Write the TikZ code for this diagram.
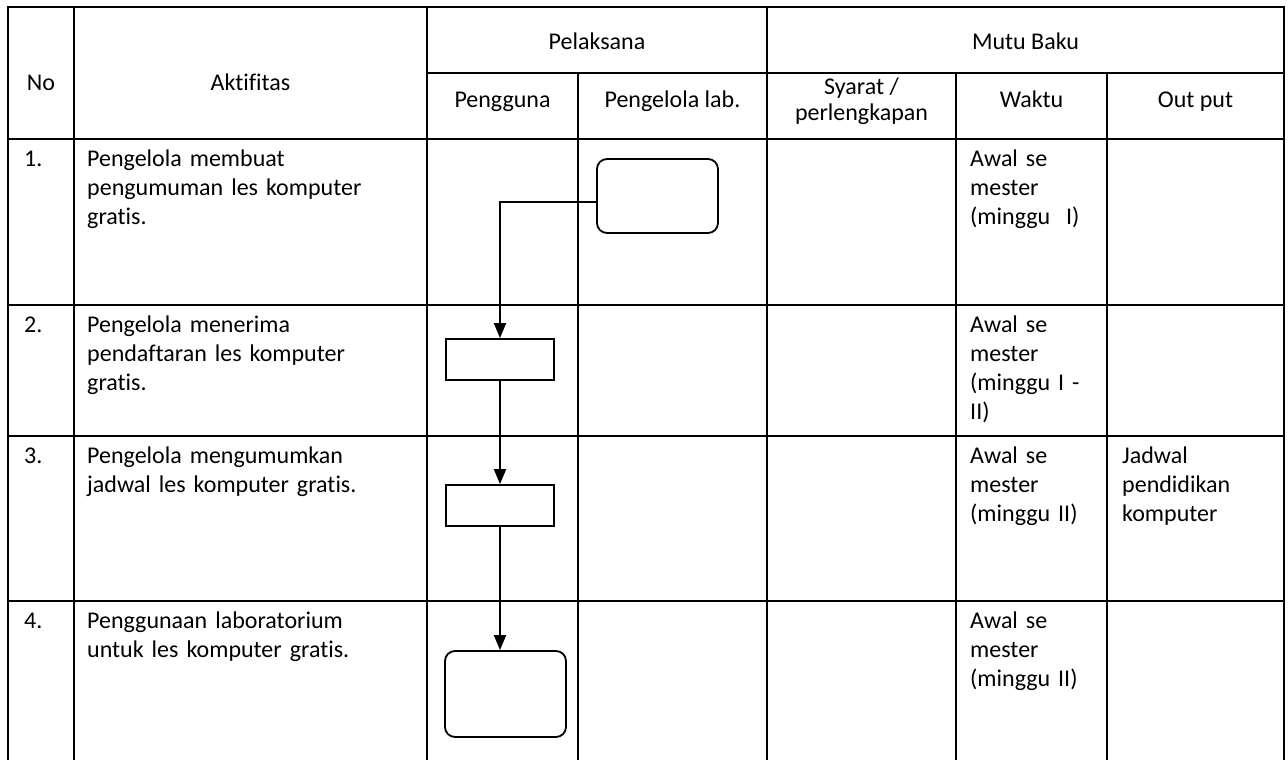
\documentclass[tikz,border=0pt]{standalone}
\usepackage{fontspec}
\setmainfont{Carlito}[Ligatures={NoCommon,NoRequired,NoContextual}]
\usetikzlibrary{arrows.meta}
\begin{document}
\begin{tikzpicture}[x=1pt,y=-1pt,
  grid/.style={line width=2.2pt},
  txt/.style={inner sep=0pt, font=\fontsize{24}{29}\selectfont},
  body/.style={txt, anchor=base west, text width=#1, align=left},
  hdr/.style={txt, anchor=base},
  flowbox/.style={draw, line width=1.8pt, inner sep=0pt, fill=white},
  roundbox/.style={flowbox, rounded corners=10pt, minimum width=121pt},
  rectbox/.style={flowbox, minimum width=108pt, minimum height=41pt},
  conn/.style={line width=2pt, -{Triangle[width=12pt,length=15pt]}},
]
\useasboundingbox (0,0) rectangle (1288,760);
% table grid
\draw[grid] (8,760) -- (8,7) -- (1284,7) -- (1284,760);
\draw[grid] (74,7) -- (74,760);
\draw[grid] (427,7) -- (427,760);
\draw[grid] (767,7) -- (767,760);
\draw[grid] (578,73) -- (578,760);
\draw[grid] (956,73) -- (956,760);
\draw[grid] (1107,73) -- (1107,760);
\draw[grid] (427,73) -- (1284,73);
\draw[grid] (8,139) -- (1284,139);
\draw[grid] (8,305) -- (1284,305);
\draw[grid] (8,436) -- (1284,436);
\draw[grid] (8,601) -- (1284,601);
% header
\node[hdr] (hno) at (41,91) {No};
\node[hdr] (hakt) at (250.5,91) {Aktifitas};
\node[hdr] (hpel) at (597,50) {Pelaksana};
\node[hdr] (hmutu) at (1025.5,50) {Mutu Baku};
\node[hdr] (hpeng) at (502.5,107) {Pengguna};
\node[hdr] (hlab) at (672.5,107) {Pengelola lab.};
\node[hdr] (hsy1) at (861.5,95) {Syarat /};
\node[hdr] (hsy2) at (861.5,120) {perlengkapan};
\node[hdr] (hwak) at (1031.5,107) {Waktu};
\node[hdr] (hout) at (1195.5,107) {Out put};
% No column
\node[body=40pt] (n1) at (24,166) {1.};
\node[body=40pt] (n2) at (24,332) {2.};
\node[body=40pt] (n3) at (24,463) {3.};
\node[body=40pt] (n4) at (24,628) {4.};
% Aktifitas
\node[body=330pt] (a1) at (87,166) {Pengelola membuat\\pengumuman les komputer\\gratis.};
\node[body=330pt] (a2) at (87,332) {Pengelola menerima\\pendaftaran les komputer\\gratis.};
\node[body=330pt] (a3) at (87,463) {Pengelola mengumumkan\\jadwal les komputer gratis.};
\node[body=330pt] (a4) at (87,628) {Penggunaan laboratorium\\untuk les komputer gratis.};
% Waktu
\node[body=130pt] (w1) at (970,166) {Awal se\\mester\\(minggu\ \ I)};
\node[body=130pt] (w2) at (970,332) {Awal se\\mester\\(minggu I -\\II)};
\node[body=130pt] (w3) at (970,463) {Awal se\\mester\\(minggu II)};
\node[body=130pt] (w4) at (970,628) {Awal se\\mester\\(minggu II)};
% Out put
\node[body=160pt] (o3) at (1122,463) {Jadwal\\pendidikan\\komputer};
% flow shapes
\node[roundbox, minimum height=74pt] (b1) at (657.5,196) {};
\node[rectbox] (b2) at (500,359.5) {};
\node[rectbox] (b3) at (500,505.5) {};
\node[roundbox, minimum height=86pt] (b4) at (505.5,694) {};
% connectors
\draw[conn] ([yshift=-6pt]b1.west) -| (b2.north);
\draw[conn] (b2.south) -- (b3.north);
\draw[conn] (b3.south) -- (b3.south |- b4.north);
\end{tikzpicture}
\end{document}
